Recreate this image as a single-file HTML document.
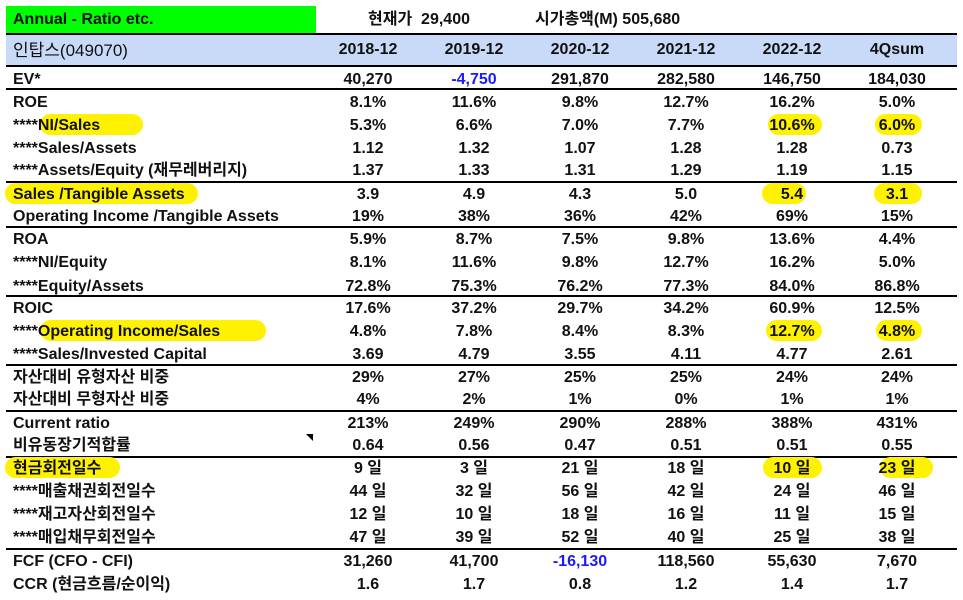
<!DOCTYPE html>
<html><head><meta charset="utf-8">
<style>
body{margin:0;width:963px;height:600px;background:#fff;position:relative;overflow:hidden;font-family:"Liberation Sans","Noto Sans CJK KR",sans-serif;font-weight:bold;font-size:16px;color:#111}
.a{position:absolute;white-space:nowrap}
.line{position:absolute;left:6px;width:951px;height:2px;background:#000}
.hl{position:absolute;background:#fff200;border-radius:11px}
.v{position:absolute;width:106px;text-align:center;line-height:22px}
.l{position:absolute;left:13px;line-height:22px;white-space:nowrap}
</style></head><body>
<div class="a" style="left:6px;top:6px;width:310px;height:27px;background:#00ff00"></div>
<div class="a" style="left:13px;top:9px;line-height:22px">Annual - Ratio etc.</div>
<div class="a" style="left:368px;top:9px;line-height:22px">현재가&nbsp; 29,400</div>
<div class="a" style="left:535px;top:9px;line-height:22px">시가총액(M) 505,680</div>
<div class="a" style="left:6px;top:35px;width:951px;height:31px;background:#c9daf8"></div>
<div class="a" style="left:13px;top:40px;font-size:17px;font-weight:normal;line-height:22px">인탑스(049070)</div>
<div class="a" style="left:306px;top:434px;width:0;height:0;border-top:7px solid #000;border-left:7px solid transparent"></div>
<div id="root"></div>
<script>
const years=["2018-12","2019-12","2020-12","2021-12","2022-12","4Qsum"];
const labels=["EV*","ROE","****NI/Sales","****Sales/Assets","****Assets/Equity (재무레버리지)","Sales /Tangible Assets","Operating Income /Tangible Assets","ROA","****NI/Equity","****Equity/Assets","ROIC","****Operating Income/Sales","****Sales/Invested Capital","자산대비 유형자산 비중","자산대비 무형자산 비중","Current ratio","비유동장기적합률","현금회전일수","****매출채권회전일수","****재고자산회전일수","****매입채무회전일수","FCF (CFO - CFI)","CCR (현금흐름/순이익)"];
const values=[
["40,270","-4,750","291,870","282,580","146,750","184,030"],
["8.1%","11.6%","9.8%","12.7%","16.2%","5.0%"],
["5.3%","6.6%","7.0%","7.7%","10.6%","6.0%"],
["1.12","1.32","1.07","1.28","1.28","0.73"],
["1.37","1.33","1.31","1.29","1.19","1.15"],
["3.9","4.9","4.3","5.0","5.4","3.1"],
["19%","38%","36%","42%","69%","15%"],
["5.9%","8.7%","7.5%","9.8%","13.6%","4.4%"],
["8.1%","11.6%","9.8%","12.7%","16.2%","5.0%"],
["72.8%","75.3%","76.2%","77.3%","84.0%","86.8%"],
["17.6%","37.2%","29.7%","34.2%","60.9%","12.5%"],
["4.8%","7.8%","8.4%","8.3%","12.7%","4.8%"],
["3.69","4.79","3.55","4.11","4.77","2.61"],
["29%","27%","25%","25%","24%","24%"],
["4%","2%","1%","0%","1%","1%"],
["213%","249%","290%","288%","388%","431%"],
["0.64","0.56","0.47","0.51","0.51","0.55"],
["9 일","3 일","21 일","18 일","10 일","23 일"],
["44 일","32 일","56 일","42 일","24 일","46 일"],
["12 일","10 일","18 일","16 일","11 일","15 일"],
["47 일","39 일","52 일","40 일","25 일","38 일"],
["31,260","41,700","-16,130","118,560","55,630","7,670"],
["1.6","1.7","0.8","1.2","1.4","1.7"]];
const rowTops=[69,92,115,138,160,184,206,229,252,276,298,321,344,367,389,413,435,458,481,504,527,551,574];
const lineYs=[33,65,88,181,226,295,364,410,456,548];
const colLeft=[315,421,527,633,739,844];
const hlLabel={2:[40,143],5:[5,198],11:[40,266],17:[5,120]};
const hlCols={2:[[768,822],[875,922]],5:[[762,806],[874,922]],11:[[766,822],[876,922]],17:[[763,822],[880,933]]};
const root=document.getElementById('root');
function mk(cls,style){const d=document.createElement('div');d.className=cls;d.style.cssText=style;root.appendChild(d);return d;}
lineYs.forEach(y=>{const d=mk('line','top:'+y+'px');

});
years.forEach((y,i)=>{const d=mk('v','left:'+colLeft[i]+'px;top:39px');d.textContent=y;

});
labels.forEach((lab,r)=>{const t=rowTops[r];
if(hlLabel[r]){const h=mk('hl','left:'+hlLabel[r][0]+'px;top:'+(t-1)+'px;width:'+(hlLabel[r][1]-hlLabel[r][0])+'px;height:21px');

}
if(hlCols[r])hlCols[r].forEach(c=>{const h=mk('hl','left:'+c[0]+'px;top:'+(t-1)+'px;width:'+(c[1]-c[0])+'px;height:21px');

});
const l=mk('l','top:'+t+'px');l.textContent=lab;


values[r].forEach((v,i)=>{const d=mk('v','left:'+colLeft[i]+'px;top:'+t+'px'+(v.startsWith('-')?';color:#1a1aff':''));d.textContent=v;

});
});
</script>
</body></html>
